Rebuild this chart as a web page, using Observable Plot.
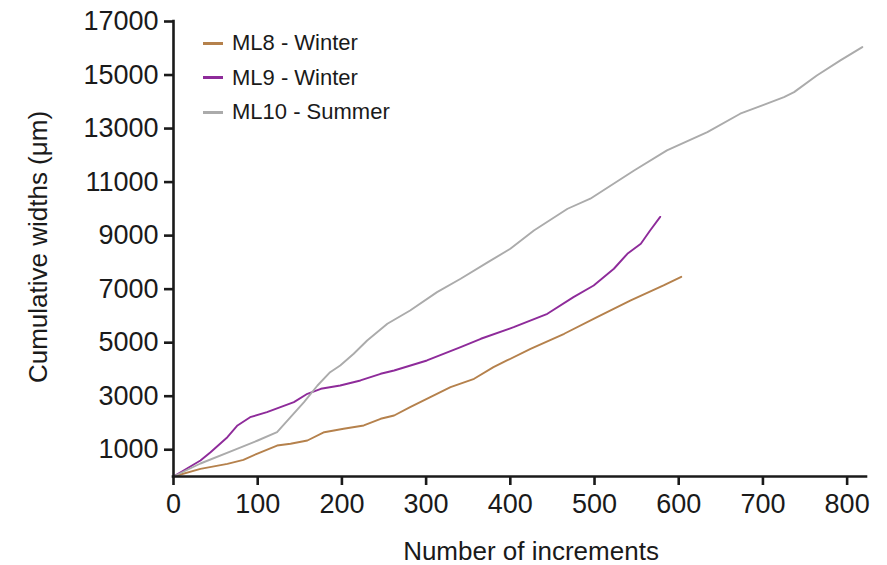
<!DOCTYPE html>
<html>
<head>
<meta charset="utf-8">
<script src="https://cdn.jsdelivr.net/npm/d3@7"></script>
<script src="https://cdn.jsdelivr.net/npm/@observablehq/plot@0.6"></script>
<style>
  html, body { margin: 0; padding: 0; background: #fff; }
  #wrap { position: relative; width: 887px; height: 565px; font-family: "Liberation Sans", Arial, sans-serif; color: #1a1a1a; }
  #legend { position: absolute; left: 203px; top: 26px; }
  .row { display: flex; align-items: center; height: 34.5px; font-size: 22px; }
  .sw { width: 20px; height: 0; border-top: 3px solid; margin-right: 9px; }
</style>
</head>
<body>
<div id="wrap"><div id="legend"></div></div>
<script>
const seriesNames = ["ML8 - Winter", "ML9 - Winter", "ML10 - Summer"];
const seriesColors = ["#b5814c", "#8e2b9a", "#ababab"];

const ml8X = [0,32,64,83,99,123,139,159,179,202,226,246,262,281,305,329,357,380,396,424,464,503,543,582,603];
const ml8Y = [0,287,474,624,848,1158,1222,1345,1655,1782,1906,2156,2280,2590,2964,3337,3651,4085,4335,4772,5333,5953,6577,7138,7460];

const ml9X = [0,32,44,64,76,91,111,127,143,159,175,198,222,246,262,301,341,365,404,444,475,499,523,539,555,566,578];
const ml9Y = [0,598,908,1469,1906,2216,2403,2590,2777,3090,3277,3400,3588,3838,3961,4335,4832,5146,5580,6080,6701,7138,7762,8322,8696,9193,9700];

const ml10X = [0,32,71,100,123,139,155,171,186,198,214,230,254,281,313,341,373,400,428,468,495,547,586,634,673,725,737,764,792,818];
const ml10Y = [0,486,972,1345,1655,2216,2777,3400,3898,4148,4585,5082,5706,6203,6888,7388,8000,8509,9193,10004,10378,11435,12183,12867,13554,14175,14361,14985,15546,16043];

const xTicks = [0,100,200,300,400,500,600,700,800];
const yTicks = [1000,3000,5000,7000,9000,11000,13000,15000,17000];
const xLabel = "Number of increments";
const yLabel = "Cumulative widths (μm)";

const allX = [ml8X, ml9X, ml10X];
const allY = [ml8Y, ml9Y, ml10Y];
const data = [];
seriesNames.forEach((s, i) => allX[i].forEach((x, j) => data.push({series: s, x, y: allY[i][j]})));

const axisW = 2.6;
const ink = "#1a1a1a";

const chart = Plot.plot({
  width: 887,
  height: 565,
  marginLeft: 173,
  marginRight: 21,
  marginTop: 21,
  marginBottom: 89,
  style: {fontFamily: "'Liberation Sans', Arial, sans-serif", fontSize: "27px", color: ink, background: "transparent"},
  x: {domain: [0, 823]},
  y: {domain: [0, 17000]},
  color: {domain: seriesNames, range: seriesColors},
  marks: [
    Plot.line(data, {x: "x", y: "y", z: "series", stroke: "series", strokeWidth: 1.9, strokeLinejoin: "round"}),
    Plot.ruleX([0], {stroke: ink, strokeWidth: axisW, strokeLinecap: "square"}),
    Plot.ruleY([0], {stroke: ink, strokeWidth: axisW, strokeLinecap: "square"}),
    Plot.axisX(xTicks, {tickSize: 9, tickPadding: 8, tickFormat: d => String(d), label: null, stroke: ink, strokeWidth: axisW, fontSize: 27}),
    Plot.axisY(yTicks, {tickSize: 9, tickPadding: 6, tickFormat: d => String(d), label: null, stroke: ink, strokeWidth: axisW, fontSize: 27}),
    Plot.text([xLabel], {frameAnchor: "bottom", textAnchor: "middle", lineAnchor: "middle", dy: 75, dx: 11, fontSize: 26, fill: ink}),
    Plot.text([yLabel], {frameAnchor: "left", textAnchor: "middle", lineAnchor: "middle", rotate: -90, dx: -135, dy: -2, fontSize: 26, fill: ink})
  ]
});
const wrap = document.getElementById("wrap");
wrap.insertBefore(chart, wrap.firstChild);

const legend = document.getElementById("legend");
seriesNames.forEach((s, i) => {
  const row = document.createElement("div");
  row.className = "row";
  const sw = document.createElement("span");
  sw.className = "sw";
  sw.style.borderTopColor = seriesColors[i];
  const t = document.createElement("span");
  t.textContent = s;
  row.appendChild(sw);
  row.appendChild(t);
  legend.appendChild(row);
});
</script>
</body>
</html>
